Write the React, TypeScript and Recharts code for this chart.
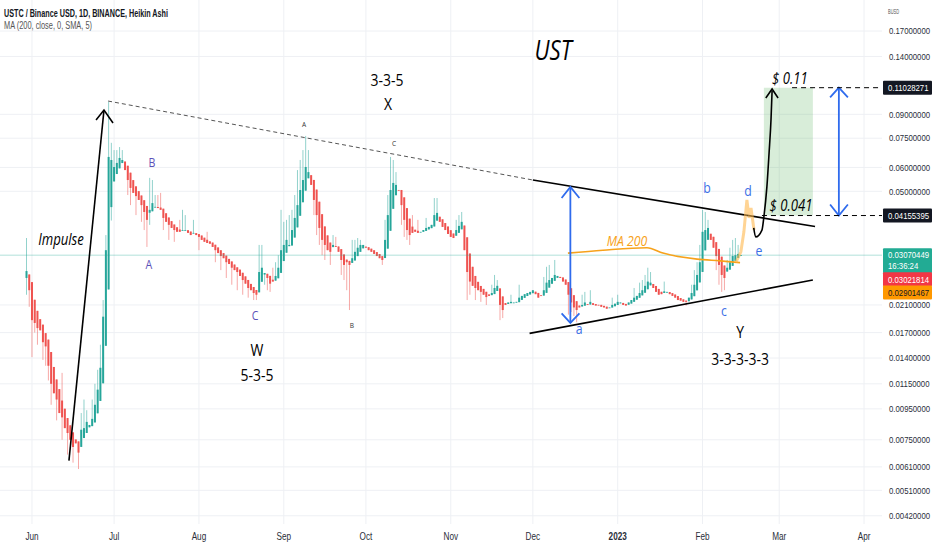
import React from 'react'
import {
  ComposedChart,
  Bar,
  Line,
  Scatter,
  XAxis,
  YAxis,
  CartesianGrid,
  ReferenceLine,
  ReferenceArea,
} from 'recharts'

const GREEN = '#26a69a'
const RED = '#ef5350'
const BLUE = '#2f6bed'
const ORANGE = '#f7a21b'
const SQ = 0.82 // the screenshot is squeezed horizontally, text too
const AXIS_FONT = '"Liberation Sans", Arial, sans-serif'
const NOTE_FONT = '"Open Sans", "Liberation Sans", sans-serif'

// x = days counted from 1 Jun 2022
const monthDays = [0, 30, 61, 92, 122, 153, 183, 214, 245, 273, 304]
const monthLabels = ['Jun', 'Jul', 'Aug', 'Sep', 'Oct', 'Nov', 'Dec', '2023', 'Feb', 'Mar', 'Apr']

const gridTicks = [0.17, 0.14, 0.09, 0.075, 0.06, 0.05, 0.021, 0.017, 0.014, 0.0115, 0.0095, 0.0075, 0.0061, 0.0051, 0.0042]
const target = 0.11028271
const breakout = 0.04155395
const lastPrice = 0.03070449
const openPrice = 0.03021814
const maLast = 0.02901467

// Heikin Ashi candles: [close, high wick, low wick] (0 = no wick)
const firstDay = -2 // 30 May 2022
const firstOpen = 0.0258
const may = [[0.0272, 0.035, 0.0227], [0.0235, 0, 0.0207]]
const jun = [
  [0.0187, 0, 0.0141], [0.0183, 0, 0.017], [0.0176, 0, 0.0155], [0.0173], [0.0158, 0, 0.0138],
  [0.0153, 0, 0.0132], [0.0132, 0, 0.0118], [0.0115, 0, 0.0098], [0.0107], [0.0102, 0, 0.0087],
  [0.0092], [0.0089, 0.0125, 0.0075], [0.0082], [0.0079, 0, 0.0067], [0.0075],
  [0.0071, 0, 0.0063], [0.0073], [0.0068, 0, 0.006], [0.0081, 0.0092, 0.0073], [0.0082, 0.0102],
  [0.0086, 0.0094], [0.0084], [0.0088, 0.0102], [0.0098, 0.0115], [0.011, 0.0128],
  [0.013, 0.0155], [0.0192, 0.0218], [0.0319, 0.0358], [0.065, 0.0989], [0.0635, 0.0724, 0.04],
]
const jul = [
  [0.0602, 0.0685], [0.0621, 0.0685], [0.0645, 0.0701], [0.0635, 0.0685], [0.0588],
  [0.0545, 0, 0.0486], [0.0513, 0, 0.045], [0.0494], [0.0482, 0, 0.0417], [0.0468],
  [0.045, 0, 0.0396], [0.0427, 0, 0.0372], [0.0402, 0, 0.0327], [0.0434, 0.0554, 0.0387], [0.0457, 0.0545],
  [0.0444, 0.0486], [0.044, 0.0486], [0.0434, 0.0494], [0.0408, 0, 0.0372], [0.0396],
  [0.0387, 0, 0.0345], [0.0378], [0.0372, 0, 0.034], [0.0367], [0.0367, 0.0402],
  [0.0372, 0.0434], [0.0372, 0.0417], [0.0364], [0.0358], [0.0364, 0.0402], [0.0358],
]
const aug = [
  [0.0353, 0, 0.0319], [0.0345], [0.034], [0.0337, 0.0367], [0.0335],
  [0.0327], [0.0319, 0, 0.0291], [0.0312], [0.0305, 0, 0.0274], [0.03],
  [0.0291, 0, 0.0258], [0.0287], [0.0279, 0, 0.0245], [0.0274], [0.027, 0, 0.0235],
  [0.0262], [0.0254, 0, 0.0227], [0.0247], [0.0239, 0, 0.0222], [0.0235],
  [0.023, 0, 0.0218], [0.0227, 0, 0.0218], [0.027, 0.0332], [0.0279, 0.0332], [0.0268, 0, 0.0245],
  [0.0258, 0, 0.0235], [0.0247, 0, 0.0232], [0.0251, 0.0279], [0.0262, 0.0291], [0.0279, 0.0307],
  [0.0319, 0.0434],
]
const sep = [
  [0.0332, 0.0396], [0.0345, 0.0402], [0.0332, 0.0417], [0.0372, 0.0434], [0.0408, 0.0486],
  [0.045, 0.0588], [0.0505, 0.0635], [0.0545, 0.0685], [0.0602, 0.0763], [0.0579, 0.0685],
  [0.0525], [0.0468, 0, 0.0417], [0.0417, 0, 0.0358], [0.0378, 0, 0.0332], [0.0345, 0, 0.0307],
  [0.0332, 0, 0.0296], [0.0319], [0.0315, 0, 0.0285], [0.0332, 0.0358], [0.0327, 0.0353],
  [0.0315], [0.0296, 0, 0.0264], [0.0285, 0, 0.0254], [0.0291, 0, 0.0235], [0.0285, 0, 0.0202],
  [0.03, 0.0345], [0.0315, 0.0345], [0.0325, 0.035], [0.0332, 0.0345], [0.0332],
]
const oct = [
  [0.0325], [0.0319], [0.0315], [0.031], [0.0305],
  [0.03], [0.0296, 0, 0.0285], [0.0345, 0.0402], [0.0417, 0.0486], [0.0505, 0.065],
  [0.0533, 0.0635], [0.0525, 0.0579], [0.0505], [0.045, 0, 0.0387], [0.0402, 0, 0.0353],
  [0.0372, 0, 0.0345], [0.0358, 0, 0.0332], [0.0364, 0.0417], [0.0367], [0.0364, 0.0402],
  [0.0367], [0.0372], [0.0378, 0.0408], [0.0381], [0.0387],
  [0.0417, 0.0475], [0.0424, 0.0475], [0.0396], [0.0381], [0.0372], [0.0361],
]
const nov = [
  [0.0353], [0.035], [0.0372, 0.0402], [0.0384, 0.0417], [0.0396, 0.0427],
  [0.0319], [0.027, 0, 0.0218], [0.0251, 0, 0.0227], [0.0243], [0.0239, 0, 0.0218],
  [0.0235], [0.0232, 0, 0.0215], [0.0227], [0.0223, 0, 0.021], [0.0225],
  [0.023, 0.0245], [0.0239, 0.0264], [0.0243, 0.0254], [0.021, 0, 0.0187], [0.0202, 0, 0.019],
  [0.021], [0.0214], [0.0215, 0.0227], [0.0214], [0.0215],
  [0.0222, 0.0245], [0.0225], [0.0228], [0.023], [0.0232],
]
const dec = [
  [0.0235], [0.0228], [0.0222], [0.0225], [0.0235, 0.026],
  [0.0249, 0.0281], [0.0254, 0.0285], [0.0258], [0.0264, 0.0296], [0.0262],
  [0.0258], [0.0251], [0.0245], [0.0227, 0, 0.0195], [0.0214, 0, 0.0199],
  [0.0206, 0, 0.0193], [0.0202, 0, 0.0184], [0.0206], [0.021, 0.0227], [0.0214, 0.0232],
  [0.021], [0.0215, 0.0235], [0.021], [0.0209], [0.021],
  [0.0207], [0.0206], [0.0204], [0.0206], [0.021, 0.0222], [0.0212],
]
const jan = [
  [0.0215, 0.0227], [0.0214], [0.021], [0.0209], [0.0214],
  [0.0218], [0.0222, 0.0239], [0.0225], [0.023, 0.0249], [0.0235, 0.0254],
  [0.0243, 0.0264], [0.0251, 0.0279], [0.0249, 0.027], [0.0239], [0.0232],
  [0.0227], [0.0228], [0.0233, 0.0251], [0.0232], [0.0228],
  [0.0225], [0.0222], [0.0218], [0.0217], [0.0215],
  [0.0215, 0, 0.0209], [0.0222], [0.023, 0.0245], [0.0245, 0.0274], [0.0264, 0.0291], [0.0291, 0.0332],
]
const feb = [
  [0.0367, 0.0434], [0.0372, 0.0427], [0.0378, 0.0402], [0.0345], [0.0325],
  [0.0305, 0, 0.0274], [0.0285, 0, 0.0245], [0.0264, 0, 0.0232], [0.0258, 0, 0.0235], [0.0279, 0.0296],
  [0.0291, 0.0325], [0.0305, 0.0345], [0.0307, 0.035], [0.031, 0.0332], [lastPrice],
]

// MA 200 (only the part shown on the chart)
const ma200 = [
  { d: 195.8, p: 0.0312 }, { d: 208.6, p: 0.0319 }, { d: 224.7, p: 0.0325 }, { d: 230.5, p: 0.0312 },
  { d: 243.0, p: 0.0298 }, { d: 251.4, p: 0.0294 }, { d: 258.7, p: maLast },
]

// drawn annotations, in (day, price)
const impulseLine = [{ d: 13.5, p: 0.0064 }, { d: 26.3, p: 0.093 }]
const impulseHead = [{ d: 23.4, p: 0.0862 }, { d: 26.3, p: 0.093 }, { d: 29.6, p: 0.0842 }]
const upperDashed = [{ d: 27.8, p: 0.0996 }, { d: 183.0, p: 0.0545 }]
const upperTrend = [{ d: 183.0, p: 0.0545 }, { d: 286.1, p: 0.0382 }]
const lowerTrend = [{ d: 181.8, p: 0.0169 }, { d: 285.3, p: 0.0254 }]
const heightArrow = [{ d: 196.7, p: 0.0517 }, { d: 196.7, p: 0.0183 }]
const heightTop = [{ d: 193.5, p: 0.0475 }, { d: 196.7, p: 0.0517 }, { d: 200.0, p: 0.0475 }]
const heightBottom = [{ d: 193.5, p: 0.0197 }, { d: 196.7, p: 0.0183 }, { d: 200.0, p: 0.0197 }]
const targetArrow = [{ d: 294.8, p: target }, { d: 294.8, p: breakout }]
const targetTop = [{ d: 291.6, p: 0.1025 }, { d: 294.8, p: target }, { d: 298.1, p: 0.1025 }]
const targetBottom = [{ d: 291.6, p: 0.0452 }, { d: 294.8, p: breakout }, { d: 298.1, p: 0.0452 }]
const targetDash = [{ d: 277.7, p: target }, { d: 310.6, p: target }]
const breakoutDash = [{ d: 266.7, p: breakout }, { d: 310.6, p: breakout }]
const projection = [
  { d: 263.7, p: 0.0378 }, { d: 264.4, p: 0.0353 }, { d: 266.7, p: 0.0372 }, { d: 267.4, p: 0.0411 },
  { d: 268.5, p: 0.0517 }, { d: 269.3, p: 0.067 }, { d: 270.0, p: 0.0862 }, { d: 270.4, p: 0.1075 },
]
const projectionHead = [{ d: 268.1, p: 0.1019 }, { d: 270.4, p: 0.1092 }, { d: 272.6, p: 0.1019 }]
const dePath = [
  { d: 257.2, p: 0.0291 }, { d: 259.0, p: 0.0315 }, { d: 260.1, p: 0.0367 }, { d: 261.2, p: 0.0468 },
  { d: 262.0, p: 0.0408 }, { d: 262.7, p: 0.044 }, { d: 263.8, p: 0.0372 },
]

// text labels, in (day, price)
const titleText = [{ d: 190.4, p: 0.147, text: 'UST' }]
const waveUpper = [
  { d: 43.8, p: 0.063, text: 'B' }, { d: 42.7, p: 0.0289, text: 'A' }, { d: 81.5, p: 0.0195, text: 'C' },
]
const waveLower = [
  { d: 199.9, p: 0.0176, text: 'a' }, { d: 246.6, p: 0.0517, text: 'b' }, { d: 252.8, p: 0.0202, text: 'c' },
  { d: 261.6, p: 0.0505, text: 'd' }, { d: 265.6, p: 0.0319, text: 'e' },
]
const smallMarks = [
  { d: 99.4, p: 0.0835, text: 'A' }, { d: 132.3, p: 0.0724, text: 'C' }, { d: 116.9, p: 0.0181, text: 'B' },
]
const structureText = [
  { d: 129.7, p: 0.1171, text: '3-3-5' }, { d: 130.1, p: 0.0981, text: 'X' },
  { d: 82.2, p: 0.0149, text: 'W' }, { d: 82.2, p: 0.0124, text: '5-3-5' },
  { d: 258.7, p: 0.0172, text: 'Y' }, { d: 258.7, p: 0.014, text: '3-3-3-3-3' },
]
const noteText = [
  { d: 10.6, p: 0.0348, text: 'Impulse' }, { d: 276.9, p: 0.1197, text: '$ 0.11' },
  { d: 277.3, p: 0.0454, text: '$ 0.041' },
]
const maText = [{ d: 217.4, p: 0.0345, text: 'MA 200' }]

const badges = [
  { v: target, bg: '#131722', fg: '#ffffff', shift: 0, sub: '' },
  { v: breakout, bg: '#131722', fg: '#ffffff', shift: 0, sub: '' },
  { v: lastPrice, bg: '#22ab94', fg: '#ffffff', shift: 0, sub: '16:36:24' },
  { v: openPrice, bg: '#f23645', fg: '#ffffff', shift: 22, sub: '' },
  { v: maLast, bg: '#ff9800', fg: '#131722', shift: 30, sub: '' },
]

const candles = (() => {
  const rows = [may, jun, jul, aug, sep, oct, nov, dec, jan, feb].flat()
  const out: any[] = []
  let prevO = firstOpen
  let prevC = firstOpen
  rows.forEach((r, i) => {
    const c = r[0]
    const o = i === 0 ? firstOpen : (prevO + prevC) / 2
    const hi = Math.max(o, c, r[1] || 0)
    const lo = Math.min(o, c, r[2] || c)
    out.push({ d: firstDay + i, o, c, hi, lo, range: [lo, hi] })
    prevO = o
    prevC = c
  })
  return out
})()

function Candle(props: any) {
  const { x, y, width, height, payload } = props
  if (x == null || y == null) return null
  const top = Math.min(y, y + height)
  const h = Math.abs(height)
  const { o, c, hi, lo } = payload
  const span = Math.log(hi) - Math.log(lo)
  const py = (v: number) => top + (span ? ((Math.log(hi) - Math.log(v)) / span) * h : 0)
  const color = c >= o ? GREEN : RED
  const cx = x + width / 2
  const bTop = py(Math.max(o, c))
  const bBot = py(Math.min(o, c))
  return (
    <g>
      <line x1={cx} x2={cx} y1={top} y2={top + h} stroke={color} strokeOpacity={0.5} strokeWidth={1} />
      <rect x={cx - 1} y={bTop} width={2} height={Math.max(bBot - bTop, 0.8)} fill={color} />
    </g>
  )
}

const textShape = (style: any) => (props: any) => {
  const { cx, cy, payload } = props
  if (cx == null || cy == null) return null
  return (
    <text
      transform={`translate(${cx},${cy}) scale(${SQ},1)`}
      textAnchor="middle"
      dominantBaseline="central"
      {...style}
    >
      {payload.text}
    </text>
  )
}

function MonthTick(props: any) {
  const { x, y, payload } = props
  const label = monthLabels[monthDays.indexOf(payload.value)]
  return (
    <text
      transform={`translate(${x},${y}) scale(${SQ},1)`}
      textAnchor="middle"
      dy="0.71em"
      fontSize={10}
      fontFamily={AXIS_FONT}
      fontWeight={label === '2023' ? 700 : 400}
      fill="#2a2e39"
    >
      {label}
    </text>
  )
}

function PriceTick(props: any) {
  const { x, y, payload } = props
  const v = payload.value
  const b = badges.find((item) => item.v === v)
  const common = { fontSize: 9.5, fontFamily: AXIS_FONT, dominantBaseline: 'central' as const }
  if (!b) {
    return (
      <text transform={`translate(${x + 7},${y}) scale(${SQ},1)`} fill="#2a2e39" {...common}>
        {v.toFixed(8)}
      </text>
    )
  }
  const cy = y + b.shift
  return (
    <g>
      <rect x={x + 1} y={cy - 7} width={49} height={b.sub ? 25 : 14} fill={b.bg} rx={1} />
      <text transform={`translate(${x + 6},${cy}) scale(${SQ},1)`} fill={b.fg} {...common}>
        {v.toFixed(8)}
      </text>
      {b.sub ? (
        <text transform={`translate(${x + 6},${cy + 11}) scale(${SQ},1)`} fill={b.fg} {...common}>
          {b.sub}
        </text>
      ) : null}
    </g>
  )
}

const seg = (key: string, data: any[], stroke: string, width: number, extra: any = {}) => (
  <Line
    key={key}
    data={data}
    dataKey="p"
    type="linear"
    stroke={stroke}
    strokeWidth={width}
    dot={false}
    activeDot={false}
    isAnimationActive={false}
    {...extra}
  />
)

export default function App() {
  return (
    <div style={{ position: 'absolute', left: 0, top: 0, width: 932, height: 550, background: '#fff' }}>
      <ComposedChart width={932} height={550} data={candles} margin={{ top: 0, right: 0, bottom: 0, left: 0 }}>
        <CartesianGrid stroke="#eef0f4" verticalValues={monthDays} horizontalValues={gridTicks} />
        <XAxis
          dataKey="d"
          type="number"
          domain={[-11.69, 310.56]}
          allowDataOverflow
          ticks={monthDays}
          interval={0}
          height={26}
          tickSize={0}
          tickMargin={9}
          axisLine={false}
          tickLine={false}
          tick={<MonthTick />}
        />
        <YAxis
          orientation="right"
          scale="log"
          domain={[0.003944, 0.2154]}
          allowDataOverflow
          ticks={[...gridTicks, target, breakout, lastPrice, openPrice, maLast]}
          interval={0}
          width={50}
          tickSize={0}
          tickMargin={0}
          axisLine={false}
          tickLine={false}
          tick={<PriceTick />}
        />
        <ReferenceArea x1={267.4} x2={285.3} y1={breakout} y2={target} fill="#4caf50" fillOpacity={0.22} stroke="none" />
        <ReferenceLine y={lastPrice} stroke="#22ab94" strokeOpacity={0.35} />
        <Bar dataKey="range" barSize={2} isAnimationActive={false} shape={(p: any) => <Candle {...p} />} />
        {seg('ma', ma200, ORANGE, 1.6, { type: 'monotone' })}
        {seg('upDash', upperDashed, '#555', 1, { strokeDasharray: '4 3' })}
        {seg('upTrend', upperTrend, '#000', 1.6)}
        {seg('lowTrend', lowerTrend, '#000', 1.6)}
        {seg('imp', impulseLine, '#000', 1.6)}
        {seg('impHead', impulseHead, '#000', 1.6)}
        {seg('hArrow', heightArrow, BLUE, 1.8)}
        {seg('hTop', heightTop, BLUE, 1.8)}
        {seg('hBot', heightBottom, BLUE, 1.8)}
        {seg('tArrow', targetArrow, BLUE, 1.8)}
        {seg('tTop', targetTop, BLUE, 1.8)}
        {seg('tBot', targetBottom, BLUE, 1.8)}
        {seg('tDash', targetDash, '#000', 1, { strokeDasharray: '5 4' })}
        {seg('bDash', breakoutDash, '#000', 1, { strokeDasharray: '5 4' })}
        {seg('de', dePath, '#ffb74d', 3, { strokeOpacity: 0.6 })}
        {seg('proj', projection, '#000', 1.6, { type: 'monotone' })}
        {seg('projHead', projectionHead, '#000', 1.6)}
        <Scatter data={titleText} dataKey="p" isAnimationActive={false}
          shape={textShape({ fontSize: 27, fontStyle: 'italic', fontFamily: NOTE_FONT, fill: '#000' })} />
        <Scatter data={structureText} dataKey="p" isAnimationActive={false}
          shape={textShape({ fontSize: 17, fontFamily: NOTE_FONT, fill: '#000' })} />
        <Scatter data={noteText} dataKey="p" isAnimationActive={false}
          shape={textShape({ fontSize: 16, fontStyle: 'italic', fontFamily: NOTE_FONT, fill: '#000' })} />
        <Scatter data={maText} dataKey="p" isAnimationActive={false}
          shape={textShape({ fontSize: 15, fontStyle: 'italic', fontFamily: NOTE_FONT, fill: ORANGE })} />
        <Scatter data={waveUpper} dataKey="p" isAnimationActive={false}
          shape={textShape({ fontSize: 13, fontFamily: NOTE_FONT, fill: '#5b50b8' })} />
        <Scatter data={waveLower} dataKey="p" isAnimationActive={false}
          shape={textShape({ fontSize: 15, fontFamily: NOTE_FONT, fill: '#3b6fe6' })} />
        <Scatter data={smallMarks} dataKey="p" isAnimationActive={false}
          shape={textShape({ fontSize: 8, fontFamily: NOTE_FONT, fill: '#333' })} />
      </ComposedChart>
      <svg width={932} height={36} style={{ position: 'absolute', left: 0, top: 0, pointerEvents: 'none' }}>
        <text x={4} y={17} fontFamily={AXIS_FONT} fontWeight={700} fontSize={10.5} textLength={164}
          lengthAdjust="spacingAndGlyphs" fill="#131722">
          USTC / Binance USD, 1D, BINANCE, Heikin Ashi
        </text>
        <text x={4} y={29} fontFamily={AXIS_FONT} fontSize={10} textLength={88}
          lengthAdjust="spacingAndGlyphs" fill="#555">
          MA (200, close, 0, SMA, 5)
        </text>
        <text x={888} y={14} fontFamily={AXIS_FONT} fontSize={8} textLength={11}
          lengthAdjust="spacingAndGlyphs" fill="#555">
          BUSD
        </text>
      </svg>
    </div>
  )
}
